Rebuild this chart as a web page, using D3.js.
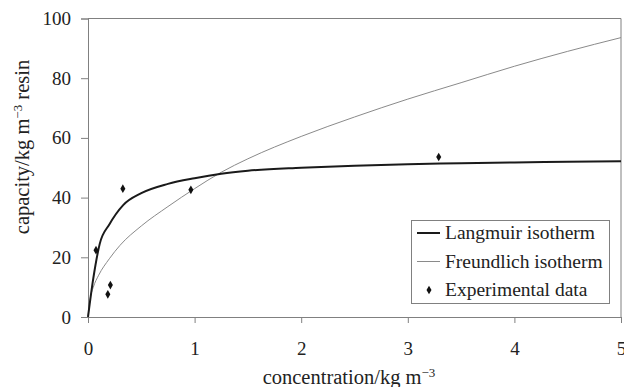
<!DOCTYPE html>
<html>
<head>
<meta charset="utf-8">
<script src="https://cdn.jsdelivr.net/npm/d3@7"></script>
</head>
<body style="margin:0;background:#fff">
<script>
// values
var expConc = [0.075, 0.21, 0.186, 0.327, 0.965, 3.29];
var expCap = [22.4, 10.7, 7.6, 43, 42.6, 53.6];

var langConc = [0, 0.05, 0.11, 0.2, 0.33, 0.5, 0.75, 1.0, 1.25, 1.5, 2, 2.5, 3, 3.5, 4, 4.5, 5];
var langCap = [0, 13, 24.5, 31, 37.5, 41.5, 44.6, 46.5, 48, 49, 50, 50.7, 51.2, 51.5, 51.8, 52, 52.2];

var freuConc = [0, 0.02, 0.05, 0.1, 0.2, 0.3, 0.5, 0.75, 1, 1.25, 1.5, 2, 2.5, 3, 3.5, 4, 4.5, 5];
var freuCap = [0, 6, 10, 14, 19.5, 24, 30.5, 37, 43, 48.5, 53, 60.5, 67, 73, 78.5, 84, 89, 93.6];

var xTicks = [0, 1, 2, 3, 4, 5];
var yTicks = [0, 20, 40, 60, 80, 100];

var legendLabels = ['Langmuir isotherm', 'Freundlich isotherm', 'Experimental data'];

var W = 624, H = 387;
var margin = { top: 18.5, right: 3, bottom: 70, left: 88 };
var axisColor = '#808080';
var serif = "'Liberation Serif', 'Times New Roman', serif";

var svg = d3.select(document.body).append('svg')
    .attr('width', W)
    .attr('height', H)
    .style('display', 'block')
    .style('font-family', serif);

var x = d3.scaleLinear().domain([0, 5]).range([margin.left, W - margin.right]);
var y = d3.scaleLinear().domain([0, 100]).range([H - margin.bottom, margin.top]);

// frame (top + right)
svg.append('path')
    .attr('d', 'M' + x(0) + ',' + y(100) + 'H' + x(5) + 'V' + y(0))
    .attr('fill', 'none')
    .attr('stroke', axisColor);

var xAxis = svg.append('g')
    .attr('transform', 'translate(0,' + y(0) + ')')
    .call(d3.axisBottom(x).tickValues(xTicks).tickFormat(d3.format('d'))
        .tickSize(6).tickPadding(19));

var yAxis = svg.append('g')
    .attr('transform', 'translate(' + x(0) + ',0)')
    .call(d3.axisLeft(y).tickValues(yTicks).tickSize(7).tickPadding(10));

[xAxis, yAxis].forEach(function(g) {
  g.attr('font-family', serif).attr('font-size', 19);
  g.selectAll('path, line').attr('stroke', axisColor);
  g.selectAll('text')
      .style('font-family', serif)
      .attr('fill', '#222');
});

function addText(sel, size) {
  return sel.append('text')
      .style('font-family', serif)
      .attr('font-size', size)
      .attr('fill', '#222');
}

// axis titles
var xt = addText(svg, 20.5)
    .attr('x', 349)
    .attr('y', 384)
    .attr('text-anchor', 'middle');
xt.append('tspan').text('concentration/kg m');
xt.append('tspan').attr('font-size', 13).attr('dy', -7.5).text('\u22123');

var yt = addText(svg, 20.5)
    .attr('transform', 'translate(29,147) rotate(-90)')
    .attr('text-anchor', 'middle');
yt.append('tspan').text('capacity/kg m');
yt.append('tspan').attr('font-size', 13).attr('dy', -7.5).text('\u22123');
yt.append('tspan').attr('dy', 7.5).text(' resin');

// curves
var line = d3.line()
    .x(function(d) { return x(d[0]); })
    .y(function(d) { return y(d[1]); })
    .curve(d3.curveMonotoneX);

svg.append('path')
    .datum(d3.zip(freuConc, freuCap))
    .attr('d', line)
    .attr('fill', 'none')
    .attr('stroke', '#8a8a8a')
    .attr('stroke-width', 1);

svg.append('path')
    .datum(d3.zip(langConc, langCap))
    .attr('d', line)
    .attr('fill', 'none')
    .attr('stroke', '#1a1a1a')
    .attr('stroke-width', 2);

var diamond = d3.symbol().type(d3.symbolDiamond).size(22);

svg.selectAll('.pt')
    .data(d3.zip(expConc, expCap))
    .enter().append('path')
    .attr('class', 'pt')
    .attr('transform', function(d) { return 'translate(' + x(d[0]) + ',' + y(d[1]) + ')'; })
    .attr('d', diamond)
    .attr('fill', '#111');

// legend
var lg = svg.append('g');
lg.append('rect')
    .attr('x', 411.5).attr('y', 220.5)
    .attr('width', 198).attr('height', 83)
    .attr('fill', '#fff')
    .attr('stroke', axisColor);

var rowY = [233, 261.5, 290];
legendLabels.forEach(function(label, i) {
  if (i < 2) {
    lg.append('line')
        .attr('x1', 417).attr('x2', 440)
        .attr('y1', rowY[i]).attr('y2', rowY[i])
        .attr('stroke', i == 0 ? '#1a1a1a' : '#8a8a8a')
        .attr('stroke-width', i == 0 ? 2 : 1);
  } else {
    lg.append('path')
        .attr('transform', 'translate(429,' + rowY[i] + ')')
        .attr('d', diamond)
        .attr('fill', '#111');
  }
  addText(lg, 19.5)
      .attr('x', 445)
      .attr('y', rowY[i])
      .attr('dy', '0.33em')
      .text(label);
});
</script>
</body>
</html>
